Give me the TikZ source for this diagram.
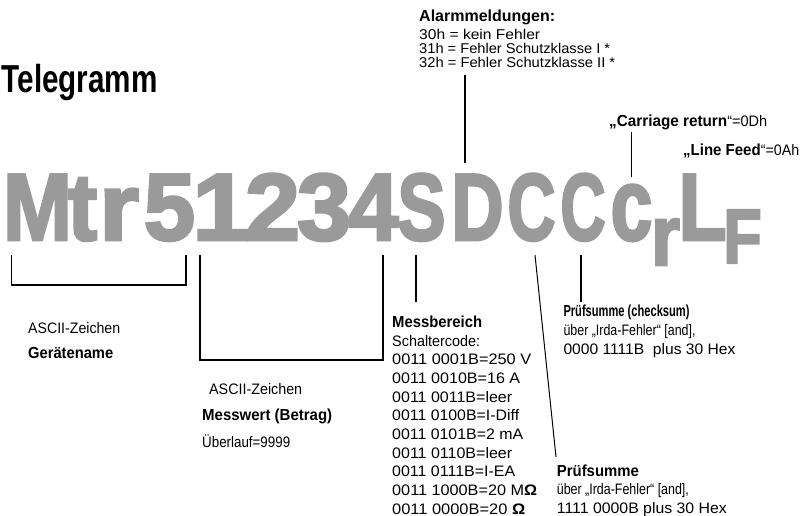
\documentclass[tikz,border=0pt]{standalone}
\usepackage{fontspec}
\setmainfont{Liberation Sans}
\newfontfamily\bigfnt{Liberation Sans Bold}[FakeBold=3]
\definecolor{biggray}{RGB}{154,154,154}
\newcommand\fw[2]{\hbox{\resizebox{#1pt}{\height}{#2}}}
\newcommand\bx[1]{{\bfseries\fontsize{16}{17}\selectfont #1}}
\begin{document}
\begin{tikzpicture}[x=1pt,y=-1pt,
  txt/.style={inner sep=0, anchor=base west, font=\fontsize{15.2}{17}\selectfont},
  big/.style={inner sep=0, anchor=base, font=\bigfnt\fontsize{95}{95}\selectfont, text=biggray},
  thk/.style={line width=1.8pt},
  thn/.style={line width=1pt}]
\useasboundingbox (0,0) rectangle (805,516);

% title
\node[txt, font=\bfseries\fontsize{39}{40}\selectfont] (title) at (1.5,93) {\resizebox{156pt}{\height}{Telegramm}};

% big telegram letters
\node[big] (lM) at (37.5,240) {\scalebox{0.87}[1]{M}};
\node[big] (lt) at (82.5,240) {\scalebox{0.93}[1]{t}};
\node[big] (lr) at (119,240) {\scalebox{1.07}[1]{r}};
\node[big] (l5) at (169.5,240) {\scalebox{0.97}[1]{5}};
\node[big] (l1) at (221,240) {\scalebox{1.08}[1]{1}};
\node[big] (l2) at (272.5,240) {\scalebox{1.04}[1]{2}};
\node[big] (l3) at (324,240) {\scalebox{1.02}[1]{3}};
\node[big] (l4) at (373.5,240) {\scalebox{0.95}[1]{4}};
\node[big] (lS) at (421.5,240) {\scalebox{0.76}[1]{S}};
\node[big] (lD) at (477.5,240) {\scalebox{0.76}[1]{D}};
\node[big] (lC1) at (531.5,240) {\scalebox{0.70}[1]{C}};
\node[big] (lC2) at (583,240) {\scalebox{0.66}[1]{C}};
\node[big] (lc) at (631.5,240) {\scalebox{0.79}[1.08]{c}};
\node[big] (lrs) at (665.5,265) {\scalebox{0.78}[0.9]{r}};
\node[big] (lL) at (702.5,240) {\scalebox{0.83}[1]{L}};
\node[big] (lF) at (742.5,263) {\scalebox{0.66}[0.81]{F}};

% top labels
\node[txt, font=\fontsize{14.2}{16}\selectfont] (alarm) at (419,22) {\vtop{\baselineskip=13.6pt\lineskiplimit=-50pt
  \fw{136}{\bx{Alarmmeldungen:}}\vskip4.4pt
  \fw{121}{30h = kein Fehler}
  \fw{191}{31h = Fehler Schutzklasse I *}
  \fw{196}{32h = Fehler Schutzklasse II *}}};
\node[txt] (cr) at (609,127) {\fw{158}{\bx{„Carriage return}“=0Dh}};
\node[txt] (lf) at (683,155) {\fw{116}{\bx{„Line Feed}“=0Ah}};

% bottom labels
\node[txt] (geraet) at (28,333.3) {\vtop{\baselineskip=25pt\lineskiplimit=-50pt
  \fw{92}{ASCII-Zeichen}
  \fw{85}{\bx{Gerätename}}}};
\node[txt] (ascii2) at (209,394) {\fw{93}{ASCII-Zeichen}};
\node[txt] (messwert) at (202,420) {\vtop{\baselineskip=27pt\lineskiplimit=-50pt
  \fw{130}{\bx{Messwert (Betrag)}}
  \fw{88}{Überlauf=9999}}};
\node[txt] (messb) at (392,327.3) {\vtop{\baselineskip=18.7pt\lineskiplimit=-50pt
  \fw{90}{\bx{Messbereich}}
  \fw{88}{Schaltercode:}
  \fw{139}{0011 0001B=250 V}
  \fw{128}{0011 0010B=16 A}
  \fw{120}{0011 0011B=leer}
  \fw{127}{0011 0100B=I-Diff}
  \fw{131}{0011 0101B=2 mA}
  \fw{120}{0011 0110B=leer}
  \fw{123}{0011 0111B=I-EA}
  \fw{145}{0011 1000B=20 M\textbf{Ω}}
  \fw{133}{0011 0000B=20 \textbf{Ω}}}};
\node[txt] (chk) at (563.3,316.7) {\vtop{\baselineskip=18.8pt\lineskiplimit=-50pt
  \fw{126}{\bx{Prüfsumme (checksum)}}
  \fw{132}{über „Irda-Fehler“ [and],}
  \fw{172}{0000 1111B\ \ plus 30 Hex}}};
\node[txt] (pruef) at (556.7,476) {\vtop{\baselineskip=18.6pt\lineskiplimit=-50pt
  \fw{82}{\bx{Prüfsumme}}
  \fw{132}{über „Irda-Fehler“ [and],}
  \fw{170}{1111 0000B plus 30 Hex}}};

% connector coordinates
\coordinate (a1) at (465,75);   \coordinate (a2) at (465,163);
\coordinate (c1) at (631,132);  \coordinate (c2) at (631,177);
\coordinate (b1a) at (11.5,255); \coordinate (b1b) at (11.5,285);
\coordinate (b1c) at (186,285);  \coordinate (b1d) at (186,255);
\coordinate (b2a) at (200,255); \coordinate (b2b) at (200,360);
\coordinate (b2c) at (383,360);  \coordinate (b2d) at (383,255);
\coordinate (m1) at (416,255);  \coordinate (m2) at (416,302);
\coordinate (s1) at (535,255);  \coordinate (s2) at (556,457);
\coordinate (k1) at (581,255);  \coordinate (k2) at (581,302);

\draw[thk] (a1) -- (a2);
\draw[thn] (c1) -- (c2);
\draw[thk] (b1a) -- (b1b) -- (b1c) -- (b1d);
\draw[thk] (b2a) -- (b2b) -- (b2c) -- (b2d);
\draw[thk] (m1) -- (m2);
\draw[thn] (s1) -- (s2);
\draw[thk] (k1) -- (k2);
\end{tikzpicture}
\end{document}
